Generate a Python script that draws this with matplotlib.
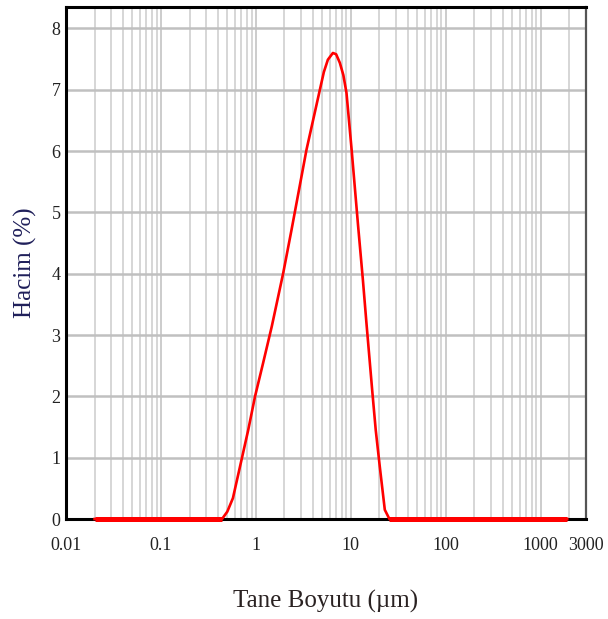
import numpy as np
import matplotlib.pyplot as plt
from matplotlib.ticker import FixedLocator, NullFormatter

plt.rcParams["font.family"] = ["Liberation Serif", "DejaVu Serif"]

# particle size distribution
size_um = np.array([0.02, 0.44, 0.50, 0.573, 0.83, 0.98, 1.19, 1.47, 1.94, 2.37,
                    3.41, 4.72, 5.2, 5.73, 6.47, 7.0, 7.66, 8.34, 9.0, 10.2, 11.9,
                    13.4, 14.6, 16.9, 18.3, 20.2, 22.8, 25.5, 1900])
volume = np.array([0, 0, 0.12, 0.34, 1.45, 2.00, 2.54, 3.14, 4.01, 4.71,
                   6.02, 7.00, 7.29, 7.49, 7.60, 7.58, 7.44, 7.24, 6.95, 6.02, 4.80,
                   3.90, 3.20, 2.05, 1.45, 0.85, 0.15, 0, 0])

xticks = [0.01, 0.1, 1, 10, 100, 1000, 3000]
xticklabels = ["0.01", "0.1", "1", "10", "100", "1000", "3000"]
yticks = [0, 1, 2, 3, 4, 5, 6, 7, 8]

fig = plt.figure(figsize=(6.08, 6.19), dpi=100)
ax = fig.add_axes([66/608, 1 - 519/619, 520/608, 512/619])

ax.set_xscale("log")
ax.set_xlim(0.01, 3000)
ax.set_ylim(0, 8.35)

minors = [m * 10.0**e for e in range(-2, 4) for m in range(2, 10) if m * 10.0**e < 3000]
ax.xaxis.set_minor_locator(FixedLocator(minors))
ax.xaxis.set_minor_formatter(NullFormatter())
ax.set_xticks(xticks)
ax.set_xticklabels(xticklabels)
ax.set_yticks(yticks)

ax.grid(True, which="minor", axis="x", color="#d6d6d6", lw=1.4)
ax.grid(True, which="major", axis="x", color="#cccccc", lw=1.4)
ax.grid(True, which="major", axis="y", color="#c0c0c0", lw=1.8)
ax.set_axisbelow(True)

ax.tick_params(which="both", length=0, labelsize=13, colors="#222222")
ax.tick_params(axis="x", pad=13)
ax.tick_params(axis="y", pad=4)

for side in ["top", "left", "bottom"]:
    ax.spines[side].set_color("black")
    ax.spines[side].set_linewidth(2.2)
ax.spines["right"].set_color("#555555")
ax.spines["right"].set_linewidth(1.6)

ax.plot(size_um, volume, color="#ff0000", lw=1.9, clip_on=False, zorder=3,
        solid_joinstyle="round")
zero = np.ma.masked_where(volume > 0, volume)
ax.plot(size_um, zero, color="#ff0000", lw=3.6, solid_capstyle="butt",
        clip_on=False, zorder=4)

ax.set_xlabel("Tane Boyutu (\u00b5m)", fontsize=18, color="#2a2222", labelpad=26)
ax.set_ylabel("Hacim (%)", fontsize=18, color="#1f1f5a", labelpad=10)

plt.savefig("out.png")
